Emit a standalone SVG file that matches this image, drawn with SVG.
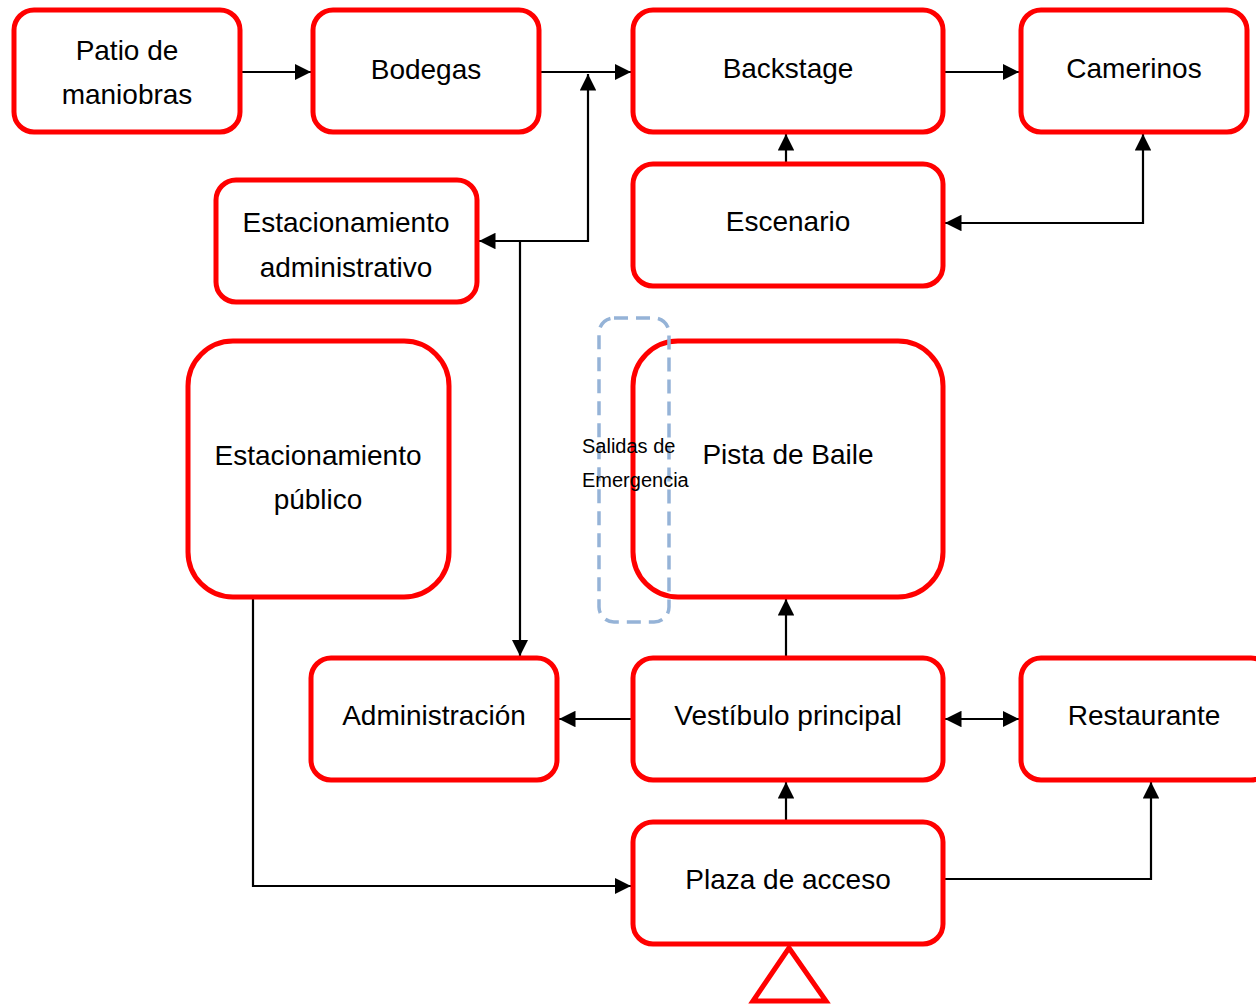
<svg xmlns="http://www.w3.org/2000/svg" width="1256" height="1005" viewBox="0 0 1256 1005">
<style>
.box{fill:#fff;stroke:#ff0000;stroke-width:5}
.lbl{font-family:"Liberation Sans",Arial,sans-serif;font-size:28px;fill:#000;text-anchor:middle}
.small{font-family:"Liberation Sans",Arial,sans-serif;font-size:20px;fill:#000}
.conn{fill:none;stroke:#000;stroke-width:2.2}
</style>
<defs>
<marker id="ah" viewBox="0 0 10 10" refX="10" refY="5" markerWidth="7.5" markerHeight="7.5" orient="auto-start-reverse" markerUnits="strokeWidth">
<path d="M0,0 L10,5 L0,10 z" fill="#000"/>
</marker>
</defs>
<rect width="1256" height="1005" fill="#fff"/>
<g id="connectors">
<path class="conn" d="M240,72 H311" marker-end="url(#ah)"/>
<path class="conn" d="M539,72 H631" marker-end="url(#ah)"/>
<path class="conn" d="M943,72 H1019" marker-end="url(#ah)"/>
<path class="conn" d="M479,241 H588 V74" marker-start="url(#ah)" marker-end="url(#ah)"/>
<path class="conn" d="M520,241 V656" marker-end="url(#ah)"/>
<path class="conn" d="M786,164 V134" marker-end="url(#ah)"/>
<path class="conn" d="M945,223 H1143 V134" marker-start="url(#ah)" marker-end="url(#ah)"/>
<path class="conn" d="M786,658 V599" marker-end="url(#ah)"/>
<path class="conn" d="M633,719 H559" marker-end="url(#ah)"/>
<path class="conn" d="M945,719 H1019" marker-start="url(#ah)" marker-end="url(#ah)"/>
<path class="conn" d="M786,822 V782" marker-end="url(#ah)"/>
<path class="conn" d="M943,879 H1151 V782" marker-end="url(#ah)"/>
<path class="conn" d="M253,597 V886 H631" marker-end="url(#ah)"/>
</g>
<g id="patio"><rect class="box" x="14" y="10" width="226" height="122" rx="20"/><text class="lbl" x="127" y="60">Patio de</text><text class="lbl" x="127" y="104">maniobras</text></g>
<g id="bodegas"><rect class="box" x="313" y="10" width="226" height="122" rx="20"/><text class="lbl" x="426" y="79">Bodegas</text></g>
<g id="backstage"><rect class="box" x="633" y="10" width="310" height="122" rx="20"/><text class="lbl" x="788" y="78">Backstage</text></g>
<g id="camerinos"><rect class="box" x="1021" y="10" width="226" height="122" rx="20"/><text class="lbl" x="1134" y="78">Camerinos</text></g>
<g id="escenario"><rect class="box" x="633" y="164" width="310" height="122" rx="20"/><text class="lbl" x="788" y="231">Escenario</text></g>
<g id="est-admin"><rect class="box" x="216" y="180" width="261" height="122" rx="20"/><text class="lbl" x="346" y="232">Estacionamiento</text><text class="lbl" x="346" y="277">administrativo</text></g>
<g id="est-publico"><rect class="box" x="188" y="341" width="261" height="256" rx="45"/><text class="lbl" x="318" y="465">Estacionamiento</text><text class="lbl" x="318" y="509">público</text></g>
<g id="pista"><rect class="box" x="633" y="341" width="310" height="256" rx="45"/><text class="lbl" x="788" y="464">Pista de Baile</text></g>
<g id="salidas"><rect x="599" y="318" width="70" height="304" rx="15" fill="none" stroke="#95b3d7" stroke-width="3.5" stroke-dasharray="14,8"/><text class="small" x="582" y="453">Salidas de</text><text class="small" x="582" y="487">Emergencia</text></g>
<g id="administracion"><rect class="box" x="311" y="658" width="246" height="122" rx="20"/><text class="lbl" x="434" y="725">Administración</text></g>
<g id="vestibulo"><rect class="box" x="633" y="658" width="310" height="122" rx="20"/><text class="lbl" x="788" y="725">Vestíbulo principal</text></g>
<g id="restaurante"><rect class="box" x="1021" y="658" width="250" height="122" rx="20"/><text class="lbl" x="1144" y="725">Restaurante</text></g>
<g id="plaza"><rect class="box" x="633" y="822" width="310" height="122" rx="20"/><text class="lbl" x="788" y="889">Plaza de acceso</text></g>
<g id="entrada"><polygon points="789,948 753,1001 826,1001" fill="none" stroke="#ff0000" stroke-width="5"/></g>
</svg>
